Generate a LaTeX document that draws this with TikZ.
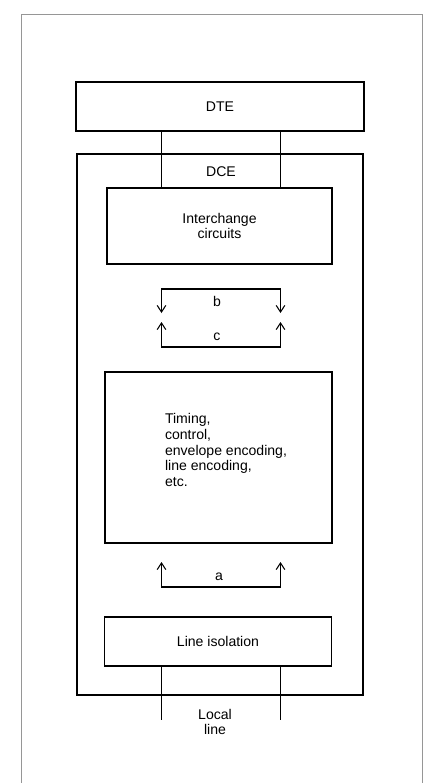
\documentclass[tikz,border=0pt]{standalone}
\usepackage{fontspec}
\setmainfont{Liberation Sans}
\usetikzlibrary{arrows.meta}
\definecolor{framegray}{RGB}{150,150,150}

\begin{document}
\begin{tikzpicture}[
    x=0.03cm, y=-0.03cm,
    font=\fontsize{12}{13.5}\selectfont,
    heavybox/.style={rectangle, draw, line width=1.4pt, inner sep=0pt},
    lightbox/.style={rectangle, draw, line width=0.9pt, inner sep=0pt},
    wire/.style={line width=0.9pt},
    arrow/.style={-{Straight Barb[length=2mm,width=2.6mm]}, line width=0.9pt}
]
    \useasboundingbox (0,0) rectangle (427,783);
    \draw[framegray, line width=0.6pt] (21,783) -- (21,14) -- (422,14) -- (422,783);

    \node[heavybox, minimum width=8.64cm, minimum height=1.47cm] (dte) at (220,106.5) {DTE};
    \node[heavybox, minimum width=8.58cm, minimum height=16.23cm] (dce) at (220,424.5) {};
    \node (dcelabel) at (221,172) {DCE};
    \node[lightbox, minimum width=6.75cm, minimum height=2.28cm, align=center] (ichg) at (219.5,226) {Interchange\\circuits};
    \node[lightbox, minimum width=6.81cm, minimum height=5.13cm] (timing) at (218.5,457.5) {};
    \node[align=left] (timingtext) at (226,450) {Timing,\\control,\\envelope encoding,\\line encoding,\\etc.};
    \node[lightbox, minimum width=6.81cm, minimum height=1.47cm] (iso) at (218,641.5) {Line isolation};
    \node[align=center] (local) at (215,722) {Local\\line};

    % left and right wire positions
    \coordinate (lx) at (161.5,0);
    \coordinate (rx) at (280.5,0);

    \draw[wire] (dte.south -| lx) -- (ichg.north -| lx);
    \draw[wire] (dte.south -| rx) -- (ichg.north -| rx);

    % b: down arrows
    \coordinate (btl) at (161.5,289);
    \coordinate (btr) at (280.5,289);
    \coordinate (bel) at (161.5,313);
    \coordinate (ber) at (280.5,313);
    \draw[arrow] (btr) -- (btl) -- (bel);
    \draw[arrow] (btl) -- (btr) -- (ber);
    \node (blabel) at (217,301) {b};

    % c: up arrows
    \coordinate (cbl) at (161.5,347);
    \coordinate (cbr) at (280.5,347);
    \coordinate (cel) at (161.5,322);
    \coordinate (cer) at (280.5,322);
    \draw[arrow] (cbr) -- (cbl) -- (cel);
    \draw[arrow] (cbl) -- (cbr) -- (cer);
    \node (clabel) at (217,337) {c};

    % a: up arrows
    \coordinate (abl) at (161.5,587);
    \coordinate (abr) at (280.5,587);
    \coordinate (ael) at (161.5,562);
    \coordinate (aer) at (280.5,562);
    \draw[arrow] (abr) -- (abl) -- (ael);
    \draw[arrow] (abl) -- (abr) -- (aer);
    \node (alabel) at (219,577) {a};

    \coordinate (llend) at (0,720);
    \draw[wire] (iso.south -| lx) -- (llend -| lx);
    \draw[wire] (iso.south -| rx) -- (llend -| rx);
\end{tikzpicture}
\end{document}
